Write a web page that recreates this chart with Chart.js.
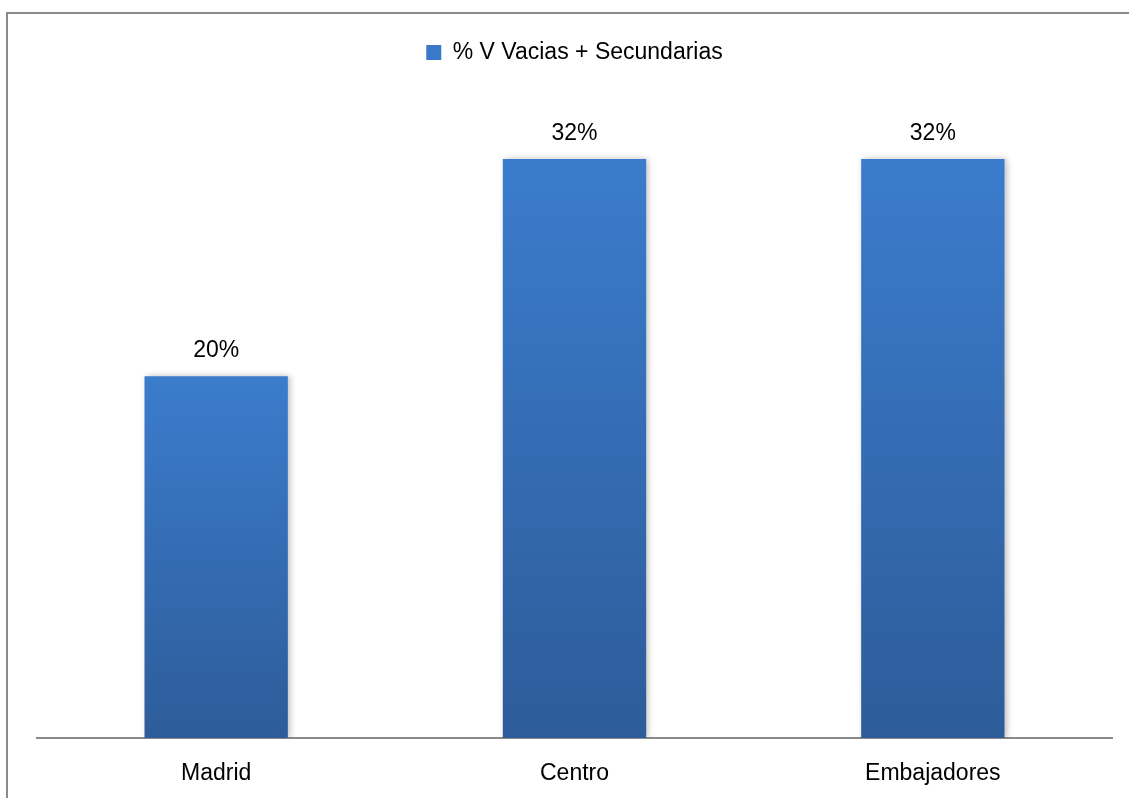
<!DOCTYPE html>
<html>
<head>
<meta charset="utf-8">
<script src="https://cdn.jsdelivr.net/npm/chart.js@4/dist/chart.umd.min.js"></script>
<style>
  html, body { margin: 0; padding: 0; background: #fff; }
  #frame { position: absolute; left: 6px; top: 12px; right: 0; bottom: 0;
           border-top: 2px solid #8a8a8a; border-left: 2px solid #8a8a8a; }
  #wrap { position: absolute; left: 0; top: 0; width: 1129px; height: 798px; }
</style>
</head>
<body>
<div id="frame"></div>
<div id="wrap"><canvas id="myChart"></canvas></div>
<script>
const categories = ['Madrid', 'Centro', 'Embajadores']
const seriesName = '% V Vacias + Secundarias'
const values = [0.20, 0.32, 0.32]

const FONT = "'Liberation Sans', Arial, sans-serif"

// each bar gets its own top-to-bottom gradient
function barGradient(context) {
  const chart = context.chart
  const {ctx, chartArea, scales} = chart
  if (!chartArea || context.raw === undefined) return '#3a78c8'
  const top = scales.y.getPixelForValue(context.raw)
  const bottom = scales.y.getPixelForValue(0)
  const g = ctx.createLinearGradient(0, top, 0, bottom)
  g.addColorStop(0, '#3b7ccd')
  g.addColorStop(1, '#2d5c99')
  return g
}

const barShadow = {
  id: 'barShadow',
  beforeDatasetsDraw(chart) {
    const ctx = chart.ctx
    ctx.save()
    ctx.shadowColor = 'rgba(0,0,0,0.25)'
    ctx.shadowBlur = 6
    ctx.shadowOffsetX = 2
    ctx.shadowOffsetY = 0
  },
  afterDatasetsDraw(chart) {
    chart.ctx.restore()
  }
}

const valueLabels = {
  id: 'valueLabels',
  afterDatasetsDraw(chart) {
    const ctx = chart.ctx
    ctx.save()
    ctx.font = '23px ' + FONT
    ctx.fillStyle = '#000'
    ctx.textAlign = 'center'
    ctx.textBaseline = 'middle'
    chart.getDatasetMeta(0).data.forEach((bar, i) => {
      ctx.fillText(Math.round(values[i] * 100) + '%', bar.x, bar.y - 25)
    })
    ctx.restore()
  }
}

const chart = new Chart(
  document.getElementById('myChart'),
  {
    type: 'bar',
    data: {
      labels: categories,
      datasets: [
        {
          label: seriesName,
          data: values,
          backgroundColor: barGradient,
          categoryPercentage: 1,
          barPercentage: 0.4
        }
      ]
    },
    options: {
      responsive: true,
      maintainAspectRatio: false,
      animation: false,
      layout: { padding: { left: 37, right: 17, top: 0, bottom: 0 } },
      plugins: {
        tooltip: { enabled: false },
        legend: {
          position: 'top',
          labels: {
            color: '#000',
            font: { family: FONT, size: 23 },
            boxWidth: 15,
            boxHeight: 15,
            padding: 41,
            generateLabels: () => [{
              text: seriesName, fillStyle: '#3a78c8', strokeStyle: '#3a78c8', lineWidth: 0
            }]
          }
        }
      },
      scales: {
        x: {
          grid: { display: false, drawTicks: false },
          border: { display: true, color: '#8a8a8a', width: 2 },
          ticks: { color: '#000', font: { family: FONT, size: 23 }, padding: 22 },
          afterFit: (axis) => { axis.height = 60 }
        },
        y: {
          display: false,
          min: 0,
          max: 0.367
        }
      }
    },
    plugins: [barShadow, valueLabels]
  }
)
</script>
</body>
</html>
